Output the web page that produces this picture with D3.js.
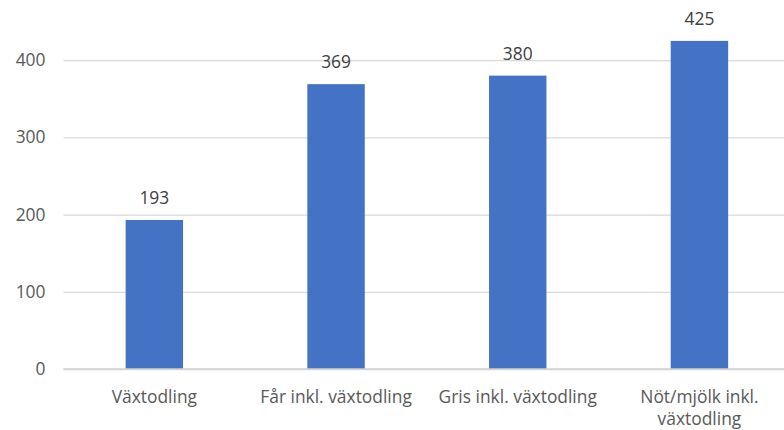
<!DOCTYPE html>
<html>
<head>
<meta charset="utf-8">
<script src="https://cdn.jsdelivr.net/npm/d3@7"></script>
<style>
  body { margin: 0; background: #fff; }
  svg { display: block; }
  text { font-family: "Open Sans", sans-serif; }
</style>
</head>
<body>
<div id="root"><svg id="chart" width="784" height="430"></svg></div>
<script>
const categories = ['Växtodling', 'Får inkl. växtodling', 'Gris inkl. växtodling', 'Nöt/mjölk inkl. växtodling'];
const categoryLines = [['Växtodling'], ['Får inkl. växtodling'], ['Gris inkl. växtodling'], ['Nöt/mjölk inkl.', 'växtodling']];
const values = [193, 369, 380, 425];
const yTicks = [0, 100, 200, 300, 400];

function drawChart() {
  const plotLeft = 63.5;
  const plotRight = 790.3;
  const plotBottom = 369;
  const pxPer100 = 77.2;
  const barColor = '#4472c4';
  const fontSize = '17.4px';

  const svg = d3.select('#chart');

  const x = d3.scaleBand()
    .domain(categories)
    .range([plotLeft, plotRight])
    .paddingInner(0.684)
    .paddingOuter(0.342);

  const y = d3.scaleLinear()
    .domain([0, 500])
    .range([plotBottom, plotBottom - pxPer100 * 5]);

  // gridlines + y labels
  const yAxis = svg.append('g')
    .attr('transform', `translate(${plotLeft},0)`)
    .call(d3.axisLeft(y).tickValues(yTicks).tickSize(-(784 - plotLeft)).tickPadding(18));
  yAxis.select('.domain').remove();
  yAxis.selectAll('.tick line').attr('stroke', '#d9d9d9').attr('stroke-width', 1.3);
  yAxis.selectAll('.tick text')
    .attr('fill', '#595959')
    .style('font-size', fontSize);

  // bars
  svg.append('g').selectAll('rect')
    .data(values)
    .join('rect')
    .attr('x', (d, i) => x(categories[i]))
    .attr('y', d => y(d))
    .attr('width', x.bandwidth())
    .attr('height', d => y(0) - y(d))
    .attr('fill', barColor);

  // baseline
  svg.append('line')
    .attr('x1', plotLeft).attr('x2', 784)
    .attr('y1', y(0)).attr('y2', y(0))
    .attr('stroke', '#d0d0d0').attr('stroke-width', 1.3);

  // data labels
  svg.append('g').selectAll('text')
    .data(values)
    .join('text')
    .attr('x', (d, i) => x(categories[i]) + x.bandwidth() / 2)
    .attr('y', d => y(d) - 16)
    .attr('text-anchor', 'middle')
    .attr('fill', '#404040')
    .style('font-size', fontSize)
    .text(d => d);

  // category labels
  const xLabels = svg.append('g').selectAll('text')
    .data(categoryLines)
    .join('text')
    .attr('x', (d, i) => x(categories[i]) + x.bandwidth() / 2)
    .attr('y', 403)
    .attr('text-anchor', 'middle')
    .attr('fill', '#595959')
    .style('font-size', fontSize);
  xLabels.selectAll('tspan')
    .data((d, i) => d.map(line => ({ line, cx: x(categories[i]) + x.bandwidth() / 2 })))
    .join('tspan')
    .attr('x', d => d.cx)
    .attr('dy', (d, j) => j === 0 ? 0 : 22)
    .text(d => d.line);
}

window.addEventListener('load', drawChart);
</script>
</body>
</html>
